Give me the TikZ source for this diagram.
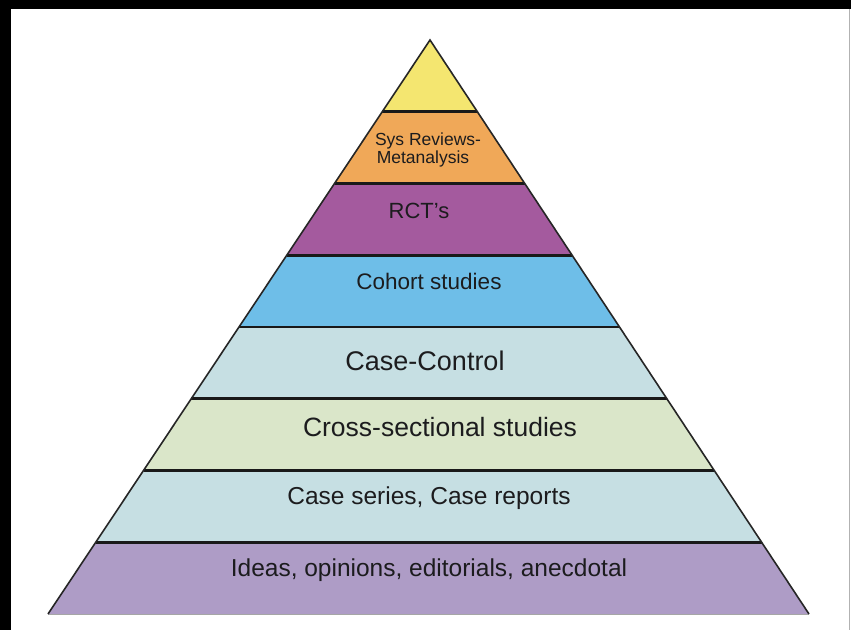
\documentclass[tikz,border=0pt]{standalone}
\usepackage{fontspec}
\setmainfont{Liberation Sans}
\usepackage{tikz}
\usetikzlibrary{calc}

\definecolor{bandyellow}{RGB}{244,230,112}
\definecolor{bandorange}{RGB}{240,168,88}
\definecolor{bandpurple}{RGB}{164,90,158}
\definecolor{bandblue}{RGB}{110,190,232}
\definecolor{bandpale}{RGB}{198,223,227}
\definecolor{bandgreen}{RGB}{218,230,201}
\definecolor{bandlilac}{RGB}{174,156,198}
\definecolor{inkgray}{RGB}{28,28,30}

\tikzset{
  level/.style={text=inkgray, anchor=base, inner sep=0pt},
  divider/.style={line width=2.6pt, black!90}
}

\begin{document}
\begin{tikzpicture}[x=1pt, y=-1pt]

                % Frame
                \useasboundingbox (0,0) rectangle (851,630);
                \fill[black] (0,0) rectangle (851,630);
                \fill[white] (11,9) rectangle (851,630);
                \draw[gray!60, line width=0.8pt] (849.5,9) -- (849.5,630);

                % Corners
                \coordinate (apex) at (430,40);
                \coordinate (bl) at (48,614);
                \coordinate (br) at (809,614);

                % Bands
                \foreach \a/\b/\c in {0/0.125/bandyellow, 0.125/0.25/bandorange,
                    0.25/0.375/bandpurple, 0.375/0.5/bandblue, 0.5/0.625/bandpale,
                    0.625/0.75/bandgreen, 0.75/0.875/bandpale, 0.875/1/bandlilac}
                  \fill[\c] ($(apex)!\a!(bl)$) -- ($(apex)!\b!(bl)$)
                    -- ($(apex)!\b!(br)$) -- ($(apex)!\a!(br)$) -- cycle;

                % Lines
                \foreach \t in {0.125,0.25,0.375,0.5,0.625,0.75,0.875}
                  \draw[divider] ($(apex)!\t!(bl)$) -- ($(apex)!\t!(br)$);
                \draw[gray!70, line width=1pt] (bl) -- (br);
                \draw[black!85, line width=1.6pt, line join=miter] (bl) -- (apex) -- (br);

                % Nodes
                \node[level, font=\fontsize{17.5}{18}\selectfont] at (428,145) (sys) {Sys Reviews-};
                \node[level, font=\fontsize{17.5}{18}\selectfont] at (423,163) (meta) {Metanalysis};
                \node[level, font=\fontsize{22}{24}\selectfont] at (419,218) (rct) {RCT’s};
                \node[level, font=\fontsize{22.5}{24}\selectfont] at (429,289) (cohort) {Cohort studies};
                \node[level, font=\fontsize{27}{30}\selectfont] at (425,370) (casecontrol) {Case-Control};
                \node[level, font=\fontsize{26.5}{30}\selectfont] at (440,436) (cross) {Cross-sectional studies};
                \node[level, font=\fontsize{24.5}{27}\selectfont] at (429,504) (series) {Case series, Case reports};
                \node[level, font=\fontsize{24.5}{27}\selectfont] at (429,576) (ideas) {Ideas, opinions, editorials, anecdotal};

            \end{tikzpicture}
\end{document}
